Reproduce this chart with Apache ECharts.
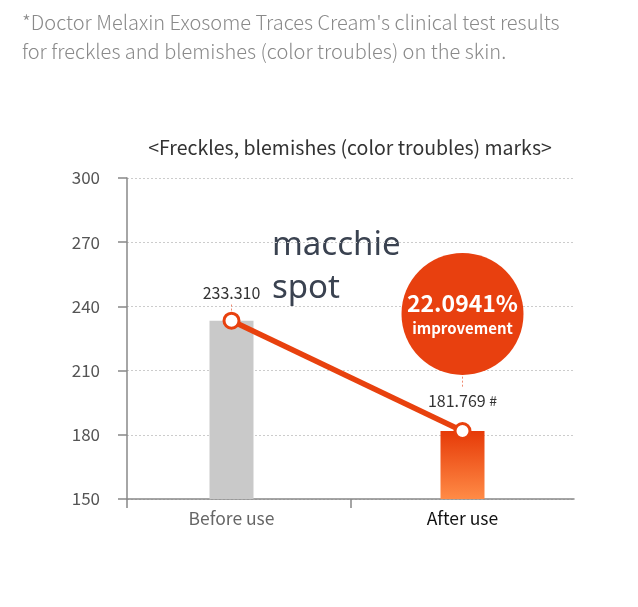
<!DOCTYPE html>
<html><head><meta charset="utf-8">
<script src="https://cdn.jsdelivr.net/npm/echarts@6/dist/echarts.min.js"></script>
<style>html,body{margin:0;padding:0;background:#fff}#c{width:638px;height:607px}</style>
</head><body><div id="c"></div>
<script>
const categories = ['Before use', 'After use'];
const values = [233.310, 181.769];
const valueLabels = ['233.310', '181.769'];
const valueMarks = ['', '#'];
const yTicks = [150, 180, 210, 240, 270, 300];
const improvementText = '22.0941%';
const improvementWord = 'improvement';
const headerLines = ["*Doctor Melaxin Exosome Traces Cream's clinical test results", 'for freckles and blemishes (color troubles) on the skin.'];
const chartTitle = '<Freckles, blemishes (color troubles) marks>';
const overlayLines = ['macchie', 'spot'];

const FONT = '"Noto Sans CJK KR", "Noto Sans", sans-serif';
const RED = '#e8410e';
const yMin = yTicks[0], yMax = yTicks[yTicks.length - 1], yStep = yTicks[1] - yTicks[0];

const chart = echarts.init(document.getElementById('c'), null, {renderer: 'canvas'});
chart.setOption({
  backgroundColor: '#fff',
  textStyle: {fontFamily: FONT},
  animation: false,
  title: [{
    text: chartTitle, left: 345, top: 133, textAlign: 'center',
    textStyle: {fontFamily: FONT, fontSize: 19.5, fontWeight: 'normal', color: '#333'}
  }],
  graphic: [
    {type: 'text', left: 22, top: 8, style: {text: headerLines.join('\n'), font: '300 20px ' + FONT, fill: '#8a8a8a', lineHeight: 29}},
    {type: 'text', left: 272, top: 224, style: {text: overlayLines.join('\n'), font: '33px "Noto Sans", sans-serif', fill: '#3a4250', lineHeight: 43}}
  ],
  grid: [
    {left: 127, right: 64, top: 178, bottom: 108},
    {left: 116, right: 60, top: 178, bottom: 108}
  ],
  xAxis: [
    {type: 'value', gridIndex: 0, min: 0, max: 2, interval: 1,
     axisLine: {show: true, lineStyle: {color: '#888', width: 1.5}},
     axisTick: {show: true, length: 9, customValues: [0, 1], lineStyle: {color: '#888', width: 1.5}},
     axisLabel: {show: false}, splitLine: {show: false}},
    {type: 'category', gridIndex: 1, data: categories,
     axisLine: {show: false}, axisTick: {show: false},
     axisLabel: {margin: 11, fontSize: 17.5, fontFamily: FONT,
       formatter: (v, i) => i === categories.length - 1 ? '{b|' + v + '}' : '{a|' + v + '}',
       rich: {a: {fontSize: 17.5, color: '#666', fontFamily: FONT}, b: {fontSize: 17.5, color: '#111', fontWeight: 'normal', fontFamily: FONT}}}}
  ],
  yAxis: [
    {type: 'value', gridIndex: 0, min: yMin, max: yMax, interval: yStep,
     axisLine: {show: true, lineStyle: {color: '#888', width: 1.5}},
     axisTick: {show: true, inside: false, length: 9, lineStyle: {color: '#888', width: 1.5}},
     axisLabel: {margin: 27, fontSize: 17, color: '#555', fontFamily: FONT},
     splitLine: {show: true, lineStyle: {color: '#ccc', type: [2, 2], width: 1}}},
    {type: 'value', gridIndex: 1, min: yMin, max: yMax, interval: yStep, show: false}
  ],
  series: [
    {type: 'bar', xAxisIndex: 1, yAxisIndex: 1, barWidth: 44,
     data: values.map((v, i) => ({
       value: v,
       itemStyle: {color: i === 0 ? '#c9c9c9' : new echarts.graphic.LinearGradient(0, 0, 0, 1, [
         {offset: 0, color: '#e63a08'}, {offset: 1, color: '#ff8b46'}])}
     }))},
    {type: 'line', xAxisIndex: 1, yAxisIndex: 1, z: 5,
     data: values,
     lineStyle: {color: RED, width: 5.5},
     symbol: 'circle', symbolSize: 15,
     itemStyle: {color: '#fff', borderColor: RED, borderWidth: 3},
     label: {show: true, position: 'top', fontFamily: FONT, fontSize: 16, color: '#333',
       distance: 11,
       formatter: p => valueLabels[p.dataIndex] + (valueMarks[p.dataIndex] ? ' {s|' + valueMarks[p.dataIndex] + '}' : ''),
       rich: {s: {fontSize: 14, color: '#333', fontFamily: FONT}}},
     labelLayout: p => p.dataIndex === 1 ? {dy: -2} : {},
     markLine: {
       silent: true, symbol: 'none',
       lineStyle: {color: '#f08a70', type: [2, 2], width: 1},
       label: {show: false},
       data: [
         [{coord: [categories[0], 236.2]}, {coord: [categories[0], 241.5]}],
         [{coord: [categories[1], 202.5]}, {coord: [categories[1], 208.3]}]
       ]
     },
     markPoint: {
       silent: true,
       symbol: 'circle', symbolSize: 122,
       itemStyle: {color: '#e8400f'},
       label: {show: true, color: '#fff', fontFamily: FONT,
         formatter: '{a|' + improvementText + '}\n{b|' + improvementWord + '}',
         rich: {a: {fontSize: 23, fontWeight: 'bold', color: '#fff', fontFamily: FONT, lineHeight: 28},
                b: {fontSize: 15, fontWeight: 'bold', color: '#fff', fontFamily: FONT, lineHeight: 22}}},
       data: [{coord: [categories[1], 236.5]}]
     }}
  ]
});
</script></body></html>
